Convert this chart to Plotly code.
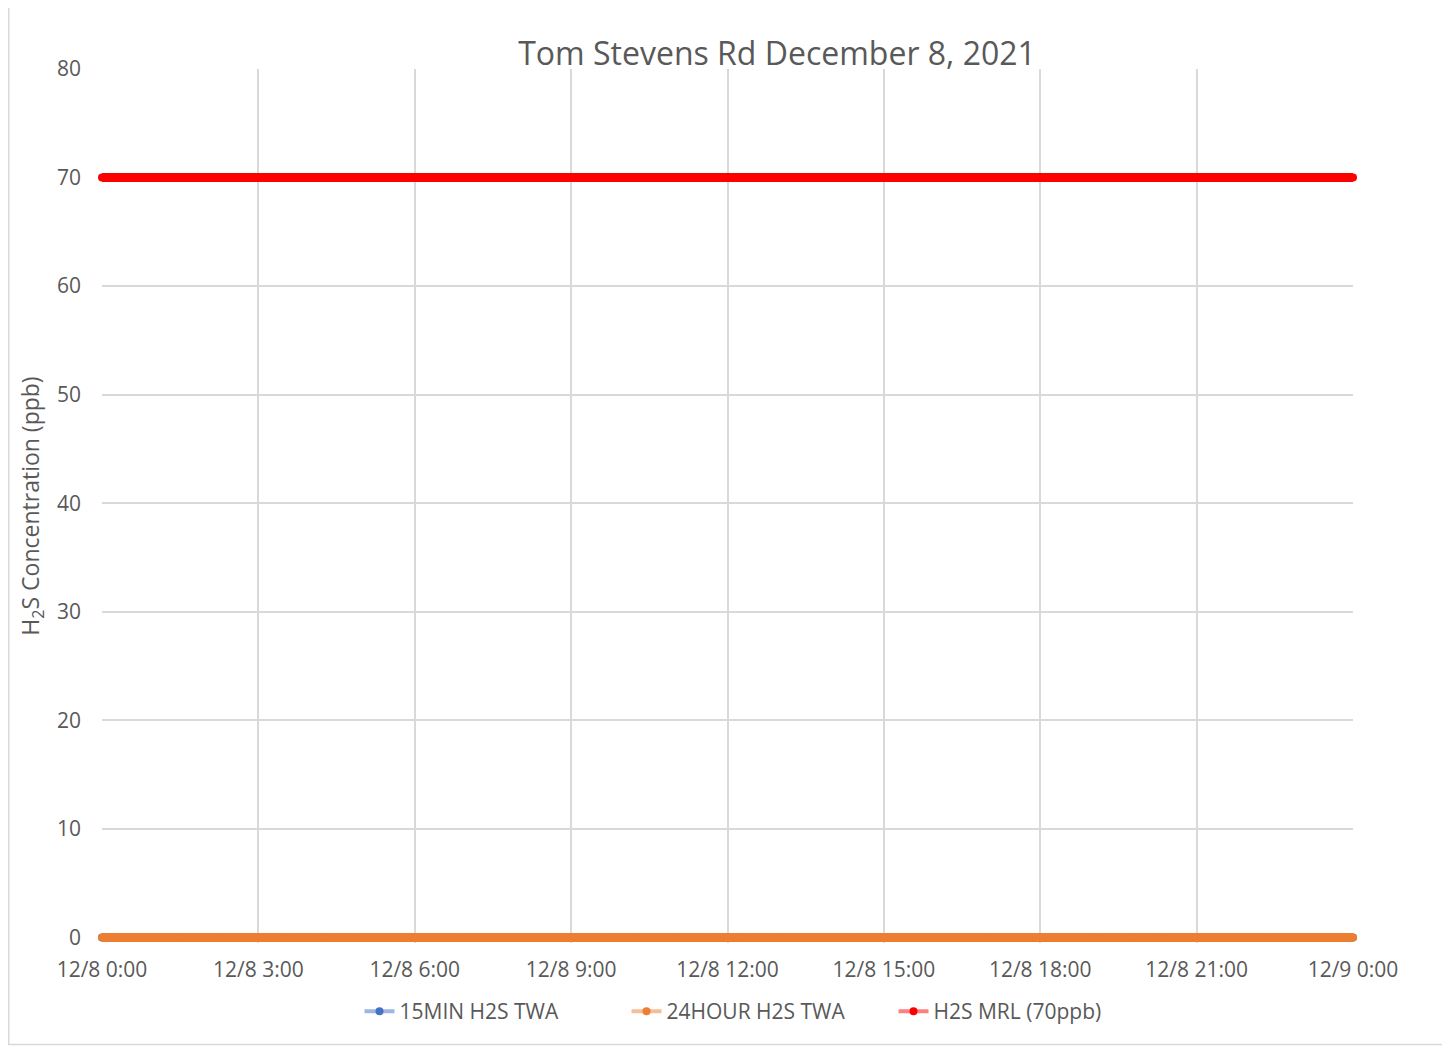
import pandas as pd
import plotly.graph_objects as go

# 15-minute timestamps over 12/8/2021
times = pd.date_range("2021-12-08 00:00", "2021-12-09 00:00", freq="15min")

# Values (ppb) - 97 readings each
min15_twa = [
    0, 0, 0, 0, 0, 0, 0, 0, 0, 0, 0, 0, 0, 0, 0, 0, 0, 0, 0, 0, 0, 0, 0, 0,
    0, 0, 0, 0, 0, 0, 0, 0, 0, 0, 0, 0, 0, 0, 0, 0, 0, 0, 0, 0, 0, 0, 0, 0,
    0, 0, 0, 0, 0, 0, 0, 0, 0, 0, 0, 0, 0, 0, 0, 0, 0, 0, 0, 0, 0, 0, 0, 0,
    0, 0, 0, 0, 0, 0, 0, 0, 0, 0, 0, 0, 0, 0, 0, 0, 0, 0, 0, 0, 0, 0, 0, 0,
    0,
]
hour24_twa = [
    0, 0, 0, 0, 0, 0, 0, 0, 0, 0, 0, 0, 0, 0, 0, 0, 0, 0, 0, 0, 0, 0, 0, 0,
    0, 0, 0, 0, 0, 0, 0, 0, 0, 0, 0, 0, 0, 0, 0, 0, 0, 0, 0, 0, 0, 0, 0, 0,
    0, 0, 0, 0, 0, 0, 0, 0, 0, 0, 0, 0, 0, 0, 0, 0, 0, 0, 0, 0, 0, 0, 0, 0,
    0, 0, 0, 0, 0, 0, 0, 0, 0, 0, 0, 0, 0, 0, 0, 0, 0, 0, 0, 0, 0, 0, 0, 0,
    0,
]
mrl_70 = [
    70, 70, 70, 70, 70, 70, 70, 70, 70, 70, 70, 70, 70, 70, 70, 70, 70, 70, 70, 70, 70, 70, 70, 70,
    70, 70, 70, 70, 70, 70, 70, 70, 70, 70, 70, 70, 70, 70, 70, 70, 70, 70, 70, 70, 70, 70, 70, 70,
    70, 70, 70, 70, 70, 70, 70, 70, 70, 70, 70, 70, 70, 70, 70, 70, 70, 70, 70, 70, 70, 70, 70, 70,
    70, 70, 70, 70, 70, 70, 70, 70, 70, 70, 70, 70, 70, 70, 70, 70, 70, 70, 70, 70, 70, 70, 70, 70,
    70,
]

series_names = ["15MIN H2S TWA", "24HOUR H2S TWA", "H2S MRL (70ppb)"]
series_values = [min15_twa, hour24_twa, mrl_70]
line_colors = ["#4472C4", "#ED7D31", "#FF0000"]
legend_line_colors = ["#9FB6E3", "#F6BE98", "#FF8080"]
legend_marker_colors = ["#4472C4", "#ED7D31", "#FF0000"]

FONT = "Open Sans"
TXT = "#595959"
GRID = "#D9D9D9"

fig = go.Figure()
for name, vals, col in zip(series_names, series_values, line_colors):
    fig.add_trace(go.Scatter(
        x=times, y=vals, mode="lines+markers", name=name, showlegend=False,
        line=dict(color=col, width=9), marker=dict(color=col, size=8, line=dict(width=0)),
        cliponaxis=False,
    ))
for name, lc, mc in zip(series_names, legend_line_colors, legend_marker_colors):
    fig.add_trace(go.Scatter(
        x=[None], y=[None], mode="lines+markers", name=name,
        line=dict(color=lc, width=4), marker=dict(color=mc, size=8),
    ))

fig.update_layout(
    width=1442, height=1039,
    margin=dict(l=94, r=97, t=61, b=103.57),
    paper_bgcolor="white", plot_bgcolor="white",
    font=dict(family=FONT, color=TXT, size=21),
    title=dict(text="Tom Stevens Rd December 8, 2021", x=0.5396, xref="paper",
               xanchor="center", y=0.9557, yref="container", yanchor="middle",
               font=dict(size=32, color=TXT, family=FONT)),
    legend=dict(orientation="h", x=0.526, xanchor="center", y=-0.0784, yanchor="middle",
                font=dict(size=21, color=TXT), traceorder="normal",
                entrywidth=222, entrywidthmode="pixels"),
    shapes=[dict(type="rect", xref="paper", yref="paper",
                 x0=-0.0745, x1=1.0727, y0=-0.1162, y1=1.0720,
                 line=dict(color=GRID, width=1.5), fillcolor="rgba(0,0,0,0)", layer="below")],
)

fig.update_xaxes(
    type="date", range=["2021-12-08 00:00", "2021-12-09 00:00"],
    dtick=3 * 3600 * 1000, tick0="2021-12-08 00:00", tickformat="%-m/%-d %-H:%M",
    showgrid=True, gridcolor=GRID, gridwidth=2, showline=False, zeroline=False,
    ticks="", ticklabelstandoff=12, tickfont=dict(size=21, color=TXT),
)
fig.update_yaxes(
    range=[-0.5, 80], dtick=10, tick0=0, showgrid=True, gridcolor=GRID, gridwidth=2,
    showline=False, zeroline=False, ticks="", ticklabelstandoff=20,
    tickfont=dict(size=21, color=TXT),
    title=dict(text="H<sub>2</sub>S Concentration (ppb)", standoff=10,
               font=dict(size=23, color=TXT)),
)

fig.write_html("out.html")
